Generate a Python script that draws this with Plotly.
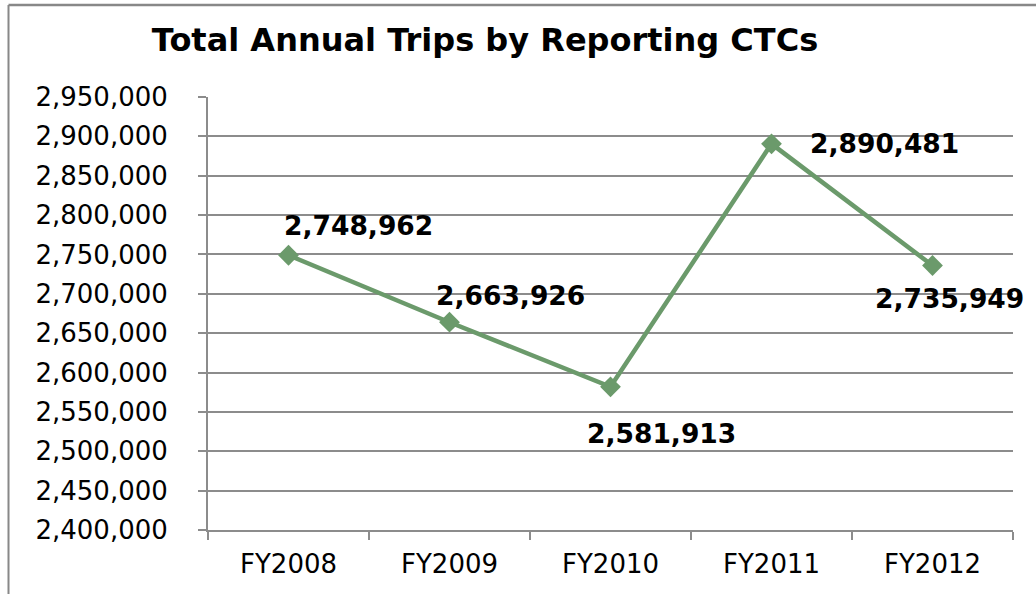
import plotly.graph_objects as go

categories = ["FY2008", "FY2009", "FY2010", "FY2011", "FY2012"]
trips = [2748962, 2663926, 2581913, 2890481, 2735949]
y_ticks = list(range(2400000, 2950001, 50000))

# label offsets (px) relative to each point: (dx to label centre, dy downward)
label_offsets = [(70, -30), (61, -27), (51, 47), (113, 0), (17, 33)]

GREEN = "#6B9A6B"
GRAY = "#8C8C8C"
FONT = "Verdana, DejaVu Sans, sans-serif"

fig = go.Figure()
fig.add_trace(go.Scatter(
    x=categories, y=trips, mode="lines+markers",
    line=dict(color=GREEN, width=4.5),
    marker=dict(symbol="diamond", size=16, color=GREEN),
    showlegend=False, hoverinfo="skip",
))

for c, v, (dx, dy) in zip(categories, trips, label_offsets):
    fig.add_annotation(
        x=c, y=v, text=f"{v:,}", showarrow=False,
        xshift=dx, yshift=-dy, xanchor="center", yanchor="middle",
        font=dict(family=FONT, size=26.5, color="black", weight="bold"),
    )

W, H = 1036, 594
L, R, T, B = 208, 23, 97, 64
pw, ph = W - L - R, H - T - B

bx0 = (8.5 - L) / pw
by1 = 1 + (T - 5) / ph
fig.add_shape(type="line", xref="paper", yref="paper",
              x0=bx0, x1=(W + 20 - L) / pw, y0=by1, y1=by1,
              line=dict(color="#888888", width=2.5), layer="above")
fig.add_shape(type="line", xref="paper", yref="paper",
              x0=bx0, x1=bx0, y0=-(B + 20) / ph, y1=by1,
              line=dict(color="#888888", width=2), layer="above")

fig.update_layout(
    width=W, height=H,
    margin=dict(l=L, r=R, t=T, b=B),
    paper_bgcolor="white", plot_bgcolor="white",
    font=dict(family=FONT, size=26, color="black"),
    title=dict(
        text="<b>Total Annual Trips by Reporting CTCs</b>",
        x=485 / W, xanchor="center", xref="container",
        y=1 - 40 / H, yanchor="middle", yref="container",
        font=dict(family=FONT, size=32, color="black"),
    ),
    xaxis=dict(
        type="category", range=[-0.5, 4.5],
        showgrid=False, showline=True, linecolor=GRAY, linewidth=2,
        ticks="outside", ticklen=8, tickwidth=2, tickcolor=GRAY,
        tickson="boundaries", ticklabelstandoff=10,
        tickfont=dict(family=FONT, size=26, color="black"),
    ),
    yaxis=dict(
        range=[2400000, 2950000], tickvals=y_ticks,
        tickformat=",d",
        showgrid=True, gridcolor=GRAY, gridwidth=2,
        showline=True, linecolor=GRAY, linewidth=2,
        ticks="outside", ticklen=8, tickwidth=2, tickcolor=GRAY,
        ticklabelstandoff=25, zeroline=False,
        tickfont=dict(family=FONT, size=26, color="black"),
    ),
)

fig.write_html(
    "out.html",
    config={"displayModeBar": False},
    post_script="document.body.style.margin='0';document.body.style.overflow='hidden';",
)
